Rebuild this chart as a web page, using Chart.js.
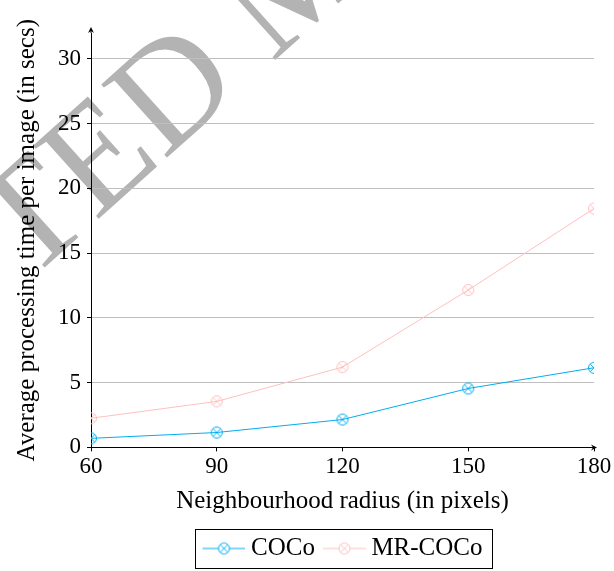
<!DOCTYPE html>
<html>
<head>
<meta charset="utf-8">
<script src="https://cdn.jsdelivr.net/npm/chart.js@4.4.1/dist/chart.umd.min.js"></script>
<style>
  html, body { margin: 0; padding: 0; background: #fff; }
  #wrap { width: 614px; height: 571px; }
</style>
</head>
<body>
<div id="wrap"><canvas id="myChart" width="614" height="571"></canvas></div>
<script>
const radius = [60, 90, 120, 150, 180];
const cocoTime = [0.7, 1.15, 2.15, 4.55, 6.15];
const mrCocoTime = [2.25, 3.55, 6.2, 12.15, 18.45];
const yTicks = [0, 5, 10, 15, 20, 25, 30];

const FONT = "'Liberation Serif', 'DejaVu Serif', serif";
const cyan = '#00aeef';
const pink = '#ffc0c0';

// circle with a cross inside (pgfplots otimes mark); legend version gets a line
function marker(color, withLine) {
  const c = document.createElement('canvas');
  c.width = withLine ? 50 : 14;
  c.height = 14;
  const g = c.getContext('2d');
  g.strokeStyle = color;
  g.lineWidth = 1;
  const cx = withLine ? 28.5 : 7, cy = 7, r = 5.5;
  if (withLine) {
    g.beginPath(); g.moveTo(7, cy); g.lineTo(cx - r, cy);
    g.moveTo(cx + r, cy); g.lineTo(50, cy); g.stroke();
  }
  g.beginPath(); g.arc(cx, cy, r, 0, Math.PI * 2); g.stroke();
  const d = r * 0.7071;
  g.beginPath();
  g.moveTo(cx - d, cy - d); g.lineTo(cx + d, cy + d);
  g.moveTo(cx + d, cy - d); g.lineTo(cx - d, cy + d);
  g.stroke();
  return c;
}

const watermark = {
  id: 'watermark',
  beforeDraw(chart) {
    const ctx = chart.ctx;
    ctx.save();
    ctx.translate(303, -18);
    ctx.rotate(-42 * Math.PI / 180);
    ctx.font = "150px " + FONT;
    ctx.fillStyle = '#b3b3b3';
    ctx.textAlign = 'center';
    ctx.textBaseline = 'middle';
    ctx.fillText('ACCEPTED MANUSCRIPT', 0, 0);
    ctx.restore();
  }
};

const arrowsAndBox = {
  id: 'arrowsAndBox',
  afterDraw(chart) {
    const ctx = chart.ctx;
    const a = chart.chartArea;
    ctx.save();
    ctx.strokeStyle = '#000';
    ctx.fillStyle = '#000';
    ctx.lineWidth = 1;
    ctx.beginPath();
    ctx.moveTo(a.left, a.top); ctx.lineTo(a.left, a.top - 3); ctx.stroke();
    ctx.beginPath();
    ctx.moveTo(a.left, a.top - 6);
    ctx.lineTo(a.left - 3, a.top);
    ctx.lineTo(a.left, a.top - 2);
    ctx.lineTo(a.left + 3, a.top);
    ctx.closePath(); ctx.fill();
    ctx.beginPath();
    ctx.moveTo(a.right + 3, a.bottom);
    ctx.lineTo(a.right - 3, a.bottom - 3);
    ctx.lineTo(a.right - 1, a.bottom);
    ctx.lineTo(a.right - 3, a.bottom + 3);
    ctx.closePath(); ctx.fill();
    const boxes = chart.legend.legendHitBoxes;
    if (boxes && boxes.length) {
      const l = Math.min(...boxes.map(b => b.left)) - 7;
      const r = Math.max(...boxes.map(b => b.left + b.width)) + 10;
      const t = Math.min(...boxes.map(b => b.top)) - 7;
      const bt = Math.max(...boxes.map(b => b.top + b.height)) + 7;
      ctx.strokeRect(Math.round(l) + 0.5, Math.round(t) + 0.5, Math.round(r - l), Math.round(bt - t));
    }
    ctx.restore();
  }
};

const ctx = document.getElementById('myChart');

new Chart(ctx, {
  type: 'line',
  data: {
    datasets: [{
      label: 'COCo',
      data: radius.map((x, i) => ({ x: x, y: cocoTime[i] })),
      borderColor: cyan,
      borderWidth: 1,
      pointStyle: marker(cyan, false),
      legendStyle: marker(cyan, true),
      tension: 0
    }, {
      label: 'MR-COCo',
      data: radius.map((x, i) => ({ x: x, y: mrCocoTime[i] })),
      borderColor: pink,
      borderWidth: 1,
      pointStyle: marker(pink, false),
      legendStyle: marker(pink, true),
      tension: 0
    }]
  },
  options: {
    responsive: false,
    animation: false,
    layout: { padding: { top: 33, right: 20, bottom: 0, left: 0 } },
    plugins: {
      tooltip: { enabled: false },
      legend: {
        position: 'bottom',
        fullSize: false,
        labels: {
          font: { family: FONT, size: 25 },
          color: '#000',
          usePointStyle: true,
          pointStyleWidth: 36,
          padding: 8,
          generateLabels(chart) {
            return chart.data.datasets.map((ds, i) => ({
              text: ds.label,
              pointStyle: ds.legendStyle,
              fontColor: '#000',
              strokeStyle: ds.borderColor,
              lineWidth: 0,
              datasetIndex: i
            }));
          }
        }
      }
    },
    scales: {
      x: {
        type: 'linear',
        min: 60,
        max: 180,
        afterBuildTicks(scale) { scale.ticks = radius.map(v => ({ value: v })); },
        ticks: { font: { family: FONT, size: 23 }, color: '#000', padding: 2, maxRotation: 0 },
        grid: { drawOnChartArea: false, tickLength: 4, tickColor: '#000' },
        border: { color: '#000', width: 1 },
        title: {
          display: true,
          text: 'Neighbourhood radius (in pixels)',
          font: { family: FONT, size: 25 },
          color: '#000',
          padding: { top: 3, bottom: 12 }
        }
      },
      y: {
        min: 0,
        max: 32,
        afterBuildTicks(scale) { scale.ticks = yTicks.map(v => ({ value: v })); },
        afterFit(scale) { scale.width = 91; },
        ticks: { font: { family: FONT, size: 23 }, color: '#000', padding: 6 },
        grid: { color: '#bfbfbf', lineWidth: 1, tickLength: 4, tickColor: '#000' },
        border: { color: '#000', width: 1 },
        title: {
          display: true,
          text: 'Average processing time per image (in secs)',
          font: { family: FONT, size: 25 },
          color: '#000',
          padding: { top: 12, bottom: 4 }
        }
      }
    }
  },
  plugins: [watermark, arrowsAndBox]
});
</script>
</body>
</html>
